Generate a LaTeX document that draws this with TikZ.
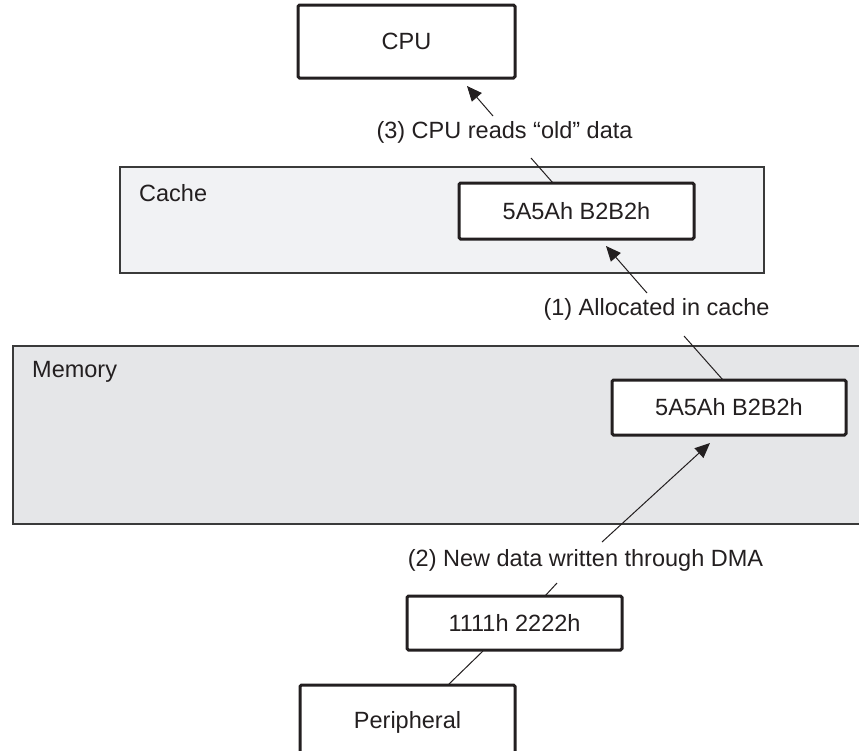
\documentclass[tikz,border=0pt]{standalone}
\usepackage{fontspec}
\setmainfont{Liberation Sans}
\usetikzlibrary{arrows.meta}
\definecolor{txt}{HTML}{231F20}
\definecolor{cachefill}{HTML}{F1F2F4}
\definecolor{memfill}{HTML}{E5E6E8}
\definecolor{regline}{HTML}{3A3A3A}
\tikzset{
  box/.style={draw=txt, line width=3pt, fill=white, rounded corners=1.5pt, inner sep=0pt, text=txt, font=\fontsize{23.5}{28}\selectfont},
  region/.style={draw=regline, line width=1.3pt},
  lbl/.style={inner sep=0pt, text=txt, font=\fontsize{23.5}{28}\selectfont},
  conn/.style={draw=txt, line width=1pt},
  arr/.style={conn, -{Triangle[length=15pt,width=13pt]}},
}
\begin{document}
\begin{tikzpicture}[x=1pt,y=-1pt]
\useasboundingbox (0,0) rectangle (859,750);
\clip (0,0) rectangle (859,750);
% regions
\path[region, fill=cachefill] (120,167) rectangle (764,273);
\node[lbl, anchor=west] (cachelbl) at (139,193) {Cache};
\path[region, fill=memfill] (13,346) rectangle (880,524);
\node[lbl, anchor=west] (memlbl) at (32,372) {Memory};
% boxes
\node[box, minimum width=217pt, minimum height=73pt] (cpu) at (406.5,41.5) {CPU};
\node[box, minimum width=235pt, minimum height=56pt] (cbox) at (576.5,211) {5A5Ah B2B2h};
\node[box, minimum width=234pt, minimum height=55pt] (mbox) at (729,407.5) {5A5Ah B2B2h};
\node[box, minimum width=215pt, minimum height=54pt] (dbox) at (514.5,623) {1111h 2222h};
\node[box, minimum width=215pt, minimum height=75pt] (per) at (407.5,722.5) {Peripheral};
% labels
\node[lbl] (l3) at (504.5,132) {(3) CPU reads “old” data};
\node[lbl] (l1) at (656.5,309) {(1) Allocated in cache};
\node[lbl] (l2) at (585.5,560) {(2) New data written through DMA};
% connector end points
\coordinate (a3s) at (493,116);
\coordinate (a3e) at (467,86);
\coordinate (c3s) at (531,158);
\coordinate (c3e) at (553,183);
\coordinate (a1s) at (647,293);
\coordinate (a1e) at (606,246);
\coordinate (c1s) at (684,336);
\coordinate (c1e) at (723,380);
\coordinate (a2s) at (602,542);
\coordinate (a2e) at (710,443);
\coordinate (c2s) at (557,583);
\coordinate (c2e) at (545,596);
\coordinate (cps) at (483,651);
\coordinate (cpe) at (448,685);
% connectors
\draw[arr] (a3s) -- (a3e);
\draw[conn] (c3s) -- (c3e);
\draw[arr] (a1s) -- (a1e);
\draw[conn] (c1s) -- (c1e);
\draw[arr] (a2s) -- (a2e);
\draw[conn] (c2s) -- (c2e);
\draw[conn] (cps) -- (cpe);
\end{tikzpicture}
\end{document}
